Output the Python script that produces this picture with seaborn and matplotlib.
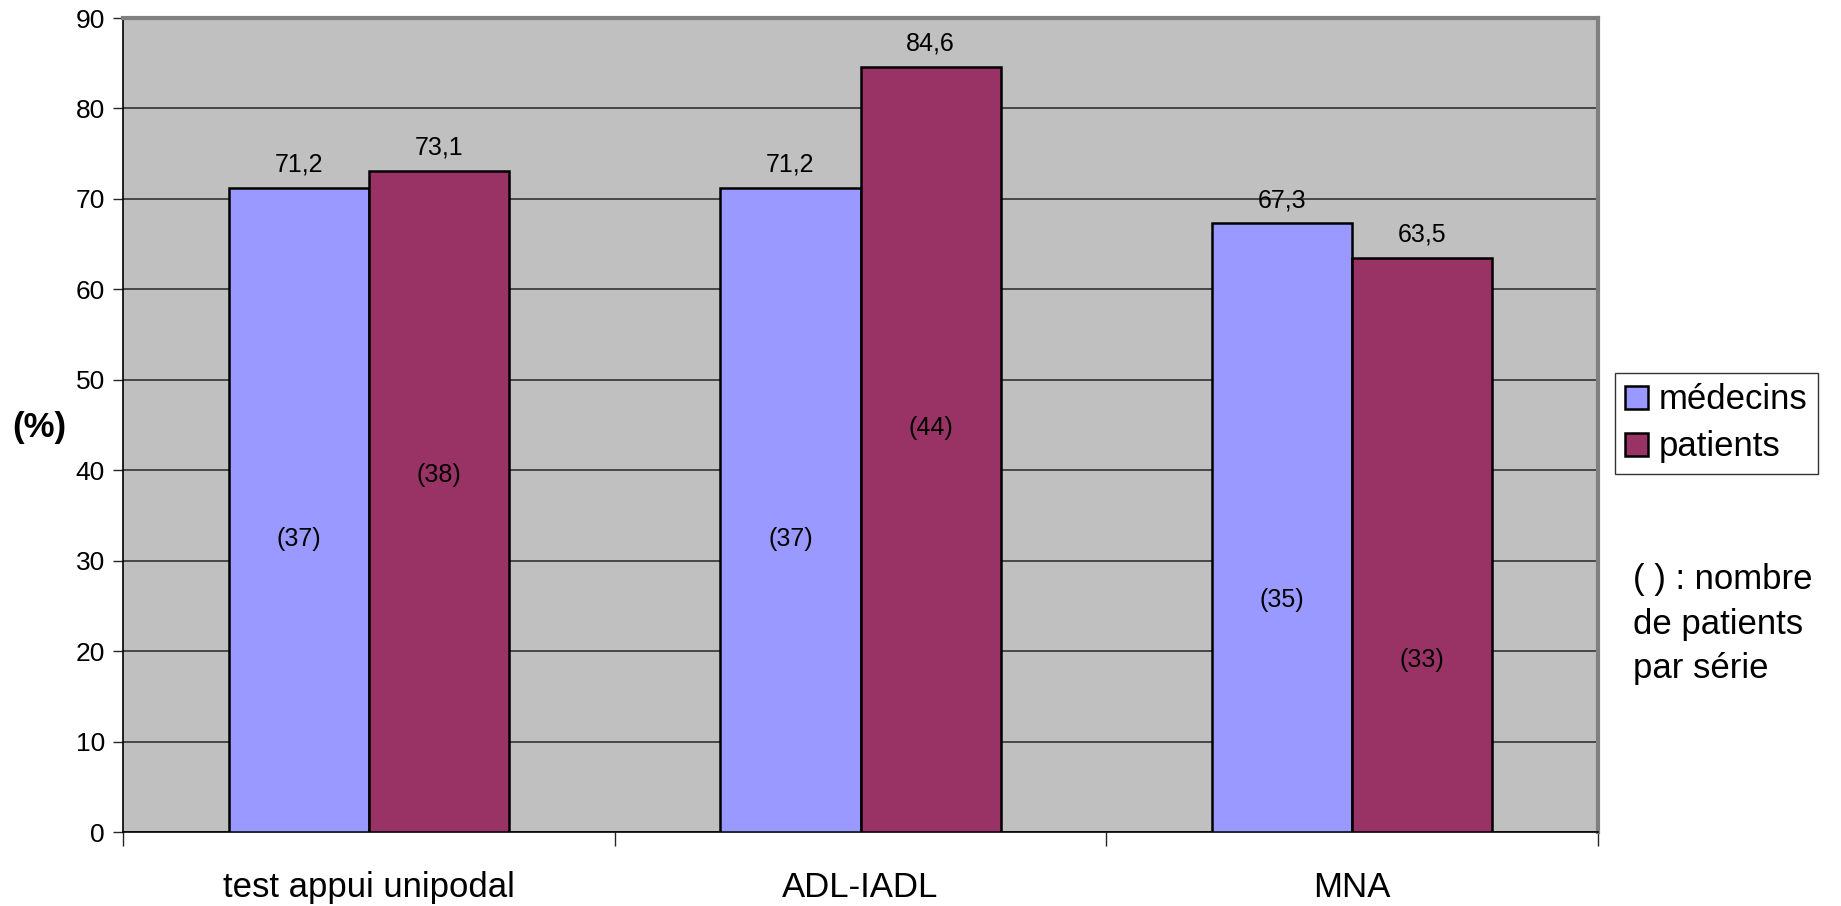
import numpy as np
import matplotlib
matplotlib.use("Agg")
import matplotlib.pyplot as plt
import seaborn as sns
import pandas as pd

categories = ["test appui unipodal", "ADL-IADL", "MNA"]
series = ["médecins", "patients"]
medecins = [71.2, 71.2, 67.3]
patients = [73.1, 84.6, 63.5]
counts_medecins = ["(37)", "(37)", "(35)"]
counts_patients = ["(38)", "(44)", "(33)"]
# height (in data units) where the counts are written inside the bars
count_y_medecins = [32.4, 32.4, 25.6]
count_y_patients = [39.5, 44.7, 19.0]

colors = ["#9999FF", "#993366"]

df = pd.DataFrame({
    "cat": categories * 2,
    "serie": [series[0]] * 3 + [series[1]] * 3,
    "val": medecins + patients,
})

sns.set_style("white")
plt.rcParams["font.family"] = ["Liberation Sans", "DejaVu Sans"]

fig = plt.figure(figsize=(18.41, 9.06), dpi=100)
ax = fig.add_axes([123 / 1841, 1 - 832 / 906, (1598 - 123) / 1841, (832 - 18) / 906])
ax.set_facecolor("#C0C0C0")

sns.barplot(data=df, x="cat", y="val", hue="serie", palette=colors, width=0.57,
            saturation=1, edgecolor="black", linewidth=1.8, ax=ax, legend=False, zorder=3)

ax.set_ylim(0, 90)
ax.set_xlim(-0.5, 2.5)
ax.set_yticks(range(0, 91, 10))
ax.yaxis.grid(True, color="#333333", linewidth=1.2, zorder=0)
ax.set_axisbelow(True)

ax.tick_params(axis="y", labelsize=19, length=7, width=1, direction="out", left=True,
               pad=6, labelcolor="black")
ax.tick_params(axis="x", which="major", length=0, labelsize=25, pad=28, labelcolor="black")
ax.set_xticks([-0.5, 0.5, 1.5, 2.5], minor=True)
ax.tick_params(axis="x", which="minor", length=10, width=1, direction="out", bottom=True)
ax.set_xlabel("")
ax.set_ylabel("")

for s in ["left", "bottom"]:
    ax.spines[s].set_color("black")
    ax.spines[s].set_linewidth(1.2)
for s in ["top", "right"]:
    ax.spines[s].set_color("#808080")
    ax.spines[s].set_linewidth(3)

# value labels and counts
offsets = [-0.57 / 4, 0.57 / 4]
for i in range(len(categories)):
    for k, (vals, cnts, cy) in enumerate([(medecins, counts_medecins, count_y_medecins),
                                          (patients, counts_patients, count_y_patients)]):
        x = i + offsets[k]
        ax.annotate(f"{vals[i]:.1f}".replace(".", ","), (x, vals[i]), xytext=(0, 8),
                    textcoords="offset points", ha="center", va="bottom", fontsize=18,
                    color="black")
        ax.text(x, cy[i], cnts[i], ha="center", va="center", fontsize=18, color="black")

fig.text(39 / 1841, 1 - 428 / 906, "(%)", fontsize=25, fontweight="bold", ha="center",
         va="center", color="black")

handles = [plt.Rectangle((0, 0), 1, 1, facecolor=c, edgecolor="black", linewidth=1.8) for c in colors]
leg = fig.legend(handles, series, loc="upper left", bbox_to_anchor=(1615 / 1841, 1 - 373 / 906),
                 fontsize=25, frameon=True, fancybox=False, handlelength=0.65, handleheight=0.65,
                 handletextpad=0.3, borderpad=0.3, labelspacing=0.4, borderaxespad=0)
leg.get_frame().set_edgecolor("black")
leg.get_frame().set_linewidth(1)
for t in leg.get_texts():
    t.set_color("black")

fig.text(1633 / 1841, 1 - 563 / 906, "( ) : nombre\nde patients\npar série", fontsize=25,
         ha="left", va="top", linespacing=1.45, color="black")

plt.savefig("out.png", dpi=100)
